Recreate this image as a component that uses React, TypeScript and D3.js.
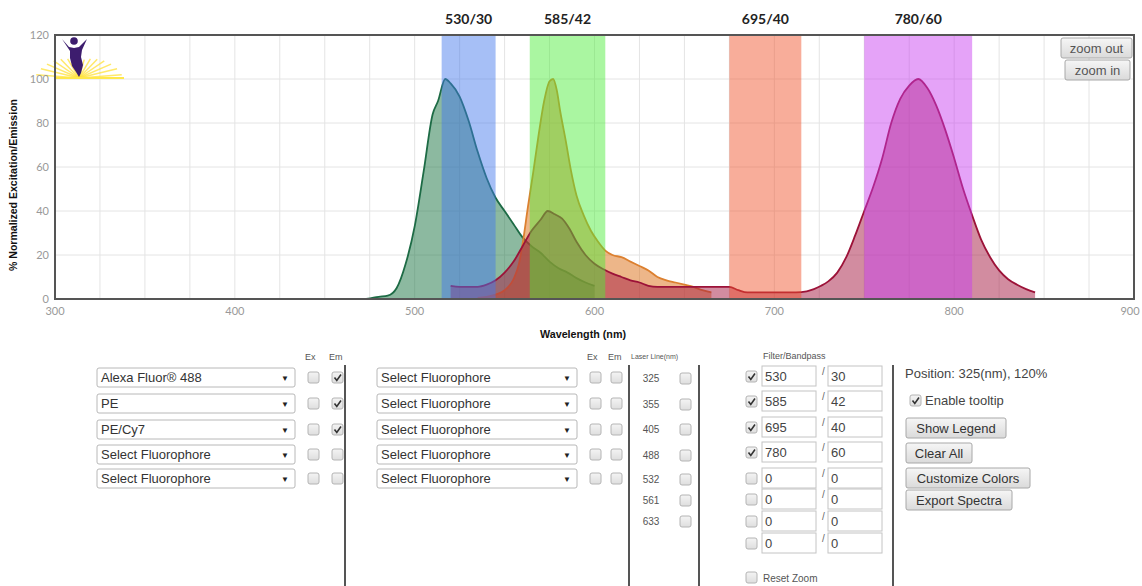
import * as d3 from "d3";

type Pt = [number, number];

// emission spectra: [wavelength nm, % normalized]
const alexa488Em: Pt[] = [
  [473, 0], [480, 1], [485, 1.5], [490, 5], [495, 16], [500, 33], [505, 58],
  [510, 84], [513, 90], [517, 100], [520, 98], [525, 92], [530, 81], [535, 67],
  [540, 55], [545, 46], [550, 40], [555, 34], [560, 28], [565, 24], [570, 21],
  [575, 17], [580, 14], [585, 12], [590, 9.5], [595, 7.5], [600, 6],
];

const peEm: Pt[] = [
  [535, 0.5], [540, 1], [545, 2], [550, 4], [555, 9], [558, 16], [560, 25],
  [563, 42], [566, 58], [569, 75], [572, 90], [575, 99], [577, 100], [579, 95],
  [581, 85], [584, 72], [587, 58], [590, 47], [594, 38], [598, 31], [602, 26],
  [606, 22], [610, 20], [615, 19], [620, 17], [625, 15], [630, 13], [635, 10],
  [640, 8.5], [645, 7.5], [650, 6.5], [655, 5.5], [660, 4], [665, 3],
];

const peCy7Em: Pt[] = [
  [520, 6], [525, 5.5], [530, 5.5], [535, 5.5], [540, 6.5], [545, 8.5],
  [550, 12], [555, 17], [560, 24], [565, 31], [570, 36], [574, 40], [578, 38.5],
  [582, 36.5], [586, 32], [590, 26], [595, 20], [600, 16], [605, 13.5],
  [610, 11.5], [615, 10], [620, 8.5], [625, 7.5], [630, 6], [635, 5.5],
  [650, 5.5], [665, 5.5], [675, 5.5], [680, 4], [685, 3], [700, 3], [712, 3],
  [718, 3.5], [722, 4.5], [726, 6], [730, 8], [735, 12], [740, 19], [745, 29],
  [750, 40], [755, 51], [760, 64], [765, 80], [770, 91], [775, 97], [780, 100],
  [785, 96], [790, 88], [795, 77], [800, 64], [805, 50], [810, 38], [815, 27],
  [820, 19], [825, 13], [830, 9], [835, 6.5], [840, 4.5], [845, 3],
];

const filterCenters = [530, 585, 695, 780];
const filterWidths = [30, 42, 40, 60];
const filterColors = ["rgb(65,120,235)", "rgb(75,235,55)", "rgb(240,80,40)", "rgb(200,60,240)"];

const xTickValues = [300, 400, 500, 600, 700, 800, 900];
const yTickValues = [0, 20, 40, 60, 80, 100, 120];

// control panel contents
const leftFluors = ["Alexa Fluor® 488", "PE", "PE/Cy7", "Select Fluorophore", "Select Fluorophore"];
const leftEm = [true, true, true, false, false];
const rightFluors = ["Select Fluorophore", "Select Fluorophore", "Select Fluorophore", "Select Fluorophore", "Select Fluorophore"];
const laserLines = [325, 355, 405, 488, 532, 561, 633];
const bandCenterInputs = [530, 585, 695, 780, 0, 0, 0, 0];
const bandWidthInputs = [30, 42, 40, 60, 0, 0, 0, 0];
const sideButtons = ["Show Legend", "Clear All", "Customize Colors", "Export Spectra"];

const series = [
  { data: alexa488Em, line: "#1d6b45", fill: "rgba(25,115,65,0.5)" },
  { data: peEm, line: "#dc8030", fill: "rgba(220,110,20,0.5)" },
  { data: peCy7Em, line: "#9c1238", fill: "rgba(165,25,65,0.5)" },
];

const UI_FONT = "'Liberation Sans', Arial, sans-serif";

const Checkbox = ({ x, y, checked }: { x: number; y: number; checked?: boolean }) => (
  <g>
    <rect x={x} y={y} width={11} height={11} rx={2} fill="url(#cbGrad)" stroke="#b4b4b4" />
    {checked && (
      <path d={`M${x + 2.5},${y + 5.5} L${x + 4.8},${y + 8.5} L${x + 9},${y + 2.5}`} fill="none" stroke="#333" strokeWidth={1.6} />
    )}
  </g>
);

const Button = ({ x, y, w, h, label, color = "#333" }: { x: number; y: number; w: number; h: number; label: string; color?: string }) => (
  <g>
    <rect x={x} y={y} width={w} height={h} rx={2} fill="url(#btnGrad)" stroke="#a8a8a8" />
    <text x={x + w / 2} y={y + h / 2 + 4.5} textAnchor="middle" fontSize={13} fill={color} fontFamily={UI_FONT}>
      {label}
    </text>
  </g>
);

const Select = ({ x, y, w, label }: { x: number; y: number; w: number; label: string }) => (
  <g>
    <rect x={x} y={y} width={w} height={19} rx={2} fill="#fff" stroke="#b8b8b8" />
    <text x={x + 4} y={y + 14} fontSize={13} fill="#333" fontFamily={UI_FONT}>{label}</text>
    <text x={x + w - 10} y={y + 13} fontSize={8} fill="#222" textAnchor="middle" fontFamily={UI_FONT}>▼</text>
  </g>
);

const Input = ({ x, y, w, value }: { x: number; y: number; w: number; value: number }) => (
  <g>
    <rect x={x} y={y} width={w} height={20} fill="#fff" stroke="#c4c4c4" />
    <text x={x + 3} y={y + 15} fontSize={13} fill="#444" fontFamily={UI_FONT}>{value}</text>
  </g>
);

const Logo = ({ x, y }: { x: number; y: number }) => {
  const rays = d3.range(-84, 85, 12);
  return (
    <g transform={`translate(${x},${y})`}>
      {rays.map((a) => {
        const r = (a * Math.PI) / 180;
        const len = 22 + Math.abs(a) / 4;
        return (
          <line key={a} x1={0} y1={0} x2={Math.sin(r) * len} y2={-Math.cos(r) * len * 0.75}
            stroke="#ffe23a" strokeWidth={1.5} opacity={0.75} />
        );
      })}
      <line x1={-25} y1={0} x2={45} y2={0} stroke="#ffe84a" strokeWidth={2.2} />
      <circle cx={-5} cy={-37} r={3.8} fill="#3d1d6e" />
      <path d="M-17,-39 L-10,-31 L-5,-30 L0,-31 L8,-39 L3,-28 L2,-21 L4,-13 L2,-5 L0,-1 L-3,-6 L-7,-12 L-9,-20 L-9,-27 Z"
        fill="#3d1d6e" />
    </g>
  );
};

export default function App() {
  const left = 55, right = 1134, top = 35, bottom = 299;
  const x = d3.scaleLinear().domain([300, 900]).range([left, right]);
  const y = d3.scaleLinear().domain([0, 120]).range([bottom, top]);

  const area = d3.area<Pt>().x((d) => x(d[0])).y0(y(0)).y1((d) => y(d[1])).curve(d3.curveMonotoneX);
  const line = d3.line<Pt>().x((d) => x(d[0])).y((d) => y(d[1])).curve(d3.curveMonotoneX);

  const xGrid = d3.range(300, 901, 25);

  const selectRows = [368, 394, 420, 445, 469];
  const laserRows = [378, 404, 429, 455, 479, 500, 521];
  const filterRows = [366, 391, 417, 442, 468, 489, 511, 533];
  const buttonRows = [418, 443, 468, 490];
  const buttonWidths = [100, 66, 124, 106];

  return (
    <svg width={1142} height={586} style={{ position: "absolute", left: 0, top: 0, background: "#fff" }}>
      <defs>
        <linearGradient id="btnGrad" x1="0" y1="0" x2="0" y2="1">
          <stop offset="0" stopColor="#f6f6f6" />
          <stop offset="1" stopColor="#dadada" />
        </linearGradient>
        <linearGradient id="cbGrad" x1="0" y1="0" x2="0" y2="1">
          <stop offset="0" stopColor="#f4f4f4" />
          <stop offset="1" stopColor="#dedede" />
        </linearGradient>
        <clipPath id="plotClip">
          <rect x={left} y={top} width={right - left} height={bottom - top} />
        </clipPath>
      </defs>

      {/* grid */}
      <g>
        {xGrid.map((v) => (
          <line key={v} x1={x(v)} x2={x(v)} y1={top} y2={bottom} stroke="#e4e4e4" />
        ))}
        {yTickValues.map((v) => (
          <line key={v} x1={left} x2={right} y1={y(v)} y2={y(v)} stroke="#e4e4e4" />
        ))}
      </g>

      <Logo x={79} y={78} />

      {/* spectra */}
      <g clipPath="url(#plotClip)">
        {series.map((s, i) => (
          <g key={i}>
            <path d={area(s.data) ?? ""} fill={s.fill} />
            <path d={line(s.data) ?? ""} fill="none" stroke={s.line} strokeWidth={1.8} />
          </g>
        ))}
      </g>

      {/* filter bands */}
      <g>
        {filterCenters.map((c, i) => {
          const x0 = x(c - filterWidths[i] / 2);
          const x1 = x(c + filterWidths[i] / 2);
          return (
            <g key={c}>
              <rect x={x0} y={top} width={x1 - x0} height={bottom - top} fill={filterColors[i]} opacity={0.47} />
              <text x={(x0 + x1) / 2} y={24} textAnchor="middle" fontSize={14} fontWeight="bold"
                fontFamily="Lato, 'Open Sans', sans-serif" fill="#222">
                {`${c}/${filterWidths[i]}`}
              </text>
            </g>
          );
        })}
      </g>

      {/* frame */}
      <rect x={left} y={top} width={right - left} height={bottom - top} fill="none" stroke="#555" strokeWidth={2} />

      {/* axes */}
      <g fontFamily="Lato, 'DejaVu Sans', sans-serif" fontSize={11} fill="#999">
        {xTickValues.map((v) => (
          <text key={v} x={Math.min(x(v), 1130)} y={315} textAnchor="middle">{v}</text>
        ))}
        {yTickValues.map((v) => (
          <text key={v} x={49} y={y(v) + 4} textAnchor="end">{v}</text>
        ))}
      </g>
      <text x={583} y={338} textAnchor="middle" fontSize={10} fontWeight="bold" fill="#111"
        fontFamily="'Liberation Sans', sans-serif" textLength={86} lengthAdjust="spacingAndGlyphs">
        Wavelength (nm)
      </text>
      <text transform="translate(17,185) rotate(-90)" textAnchor="middle" fontSize={10} fontWeight="bold" fill="#111"
        fontFamily="'Liberation Sans', sans-serif" textLength={172} lengthAdjust="spacingAndGlyphs">
        % Normalized Excitation/Emission
      </text>

      <Button x={1061} y={38} w={71} h={20} label="zoom out" color="#555" />
      <Button x={1065} y={60} w={65} h={20} label="zoom in" color="#555" />

      {/* control panel */}
      <g fontFamily={UI_FONT}>
        <text x={305} y={360} fontSize={9} fill="#555">Ex</text>
        <text x={329} y={360} fontSize={9} fill="#555">Em</text>
        {leftFluors.map((f, i) => (
          <g key={i}>
            <Select x={97} y={selectRows[i]} w={198} label={f} />
            <Checkbox x={308} y={selectRows[i] + 4} />
            <Checkbox x={332} y={selectRows[i] + 4} checked={leftEm[i]} />
          </g>
        ))}
        <line x1={345} x2={345} y1={365} y2={586} stroke="#555" strokeWidth={2} />

        <text x={587} y={360} fontSize={9} fill="#555">Ex</text>
        <text x={608} y={360} fontSize={9} fill="#555">Em</text>
        <text x={631} y={359} fontSize={7} fill="#555">Laser Line(nm)</text>
        {rightFluors.map((f, i) => (
          <g key={i}>
            <Select x={377} y={selectRows[i]} w={200} label={f} />
            <Checkbox x={590} y={selectRows[i] + 4} />
            <Checkbox x={611} y={selectRows[i] + 4} />
          </g>
        ))}
        <line x1={629} x2={629} y1={365} y2={586} stroke="#555" strokeWidth={2} />
        {laserLines.map((l, i) => (
          <g key={l}>
            <text x={651} y={laserRows[i] + 4} fontSize={10} fill="#555" textAnchor="middle">{l}</text>
            <Checkbox x={680} y={laserRows[i] - 5} />
          </g>
        ))}
        <line x1={699} x2={699} y1={365} y2={586} stroke="#555" strokeWidth={2} />

        <text x={763} y={359} fontSize={9} fill="#555">Filter/Bandpass</text>
        {bandCenterInputs.map((c, i) => (
          <g key={i}>
            <Checkbox x={746} y={filterRows[i] + 5} checked={c > 0} />
            <Input x={762} y={filterRows[i]} w={54} value={c} />
            <text x={822} y={filterRows[i] + 9} fontSize={10} fill="#666">/</text>
            <Input x={828} y={filterRows[i]} w={54} value={bandWidthInputs[i]} />
          </g>
        ))}
        <Checkbox x={746} y={572} />
        <text x={763} y={582} fontSize={10} fill="#555">Reset Zoom</text>
        <line x1={893} x2={893} y1={365} y2={586} stroke="#555" strokeWidth={2} />

        <text x={905} y={378} fontSize={13} fill="#444">Position: 325(nm), 120%</text>
        <Checkbox x={910} y={395} checked />
        <text x={925} y={405} fontSize={13} fill="#444">Enable tooltip</text>
        {sideButtons.map((b, i) => (
          <Button key={b} x={906} y={buttonRows[i]} w={buttonWidths[i]} h={20} label={b} />
        ))}
      </g>
    </svg>
  );
}
